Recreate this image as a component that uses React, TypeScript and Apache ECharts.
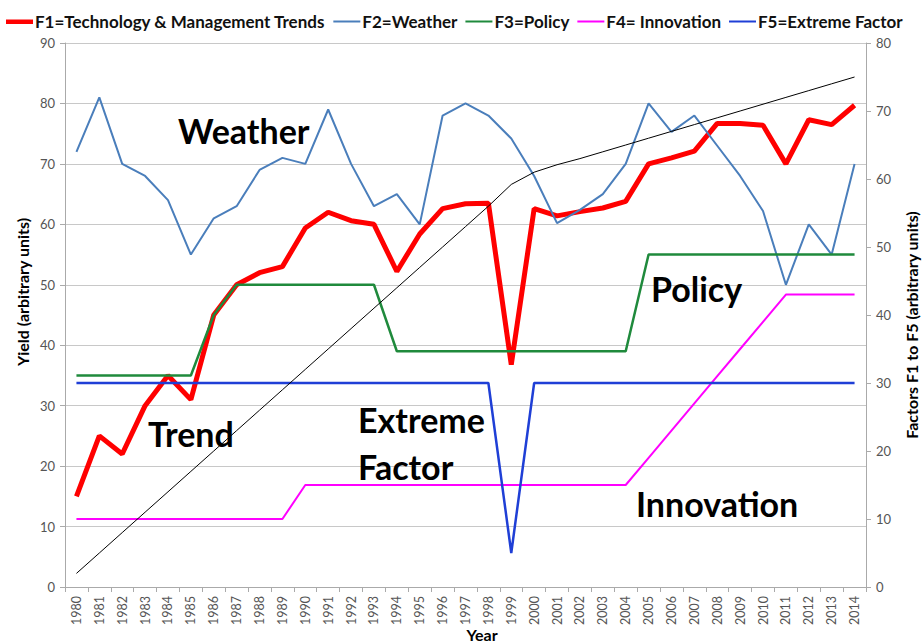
import React, { useEffect, useRef } from "react";
import * as echarts from "echarts";

const years = [
  "1980", "1981", "1982", "1983", "1984", "1985", "1986", "1987", "1988", "1989",
  "1990", "1991", "1992", "1993", "1994", "1995", "1996", "1997", "1998", "1999",
  "2000", "2001", "2002", "2003", "2004", "2005", "2006", "2007", "2008", "2009",
  "2010", "2011", "2012", "2013", "2014",
];

const f1Trends = [
  15, 25, 22, 30, 35, 31, 45, 50, 52, 53,
  59.4, 62, 60.6, 60, 52.2, 58.4, 62.6, 63.4, 63.5, 36.8,
  62.6, 61.4, 62.1, 62.7, 63.8, 70, 71, 72.1, 76.7, 76.7,
  76.4, 70, 77.3, 76.5, 79.7,
];

const f2Weather = [
  72, 81, 70, 68, 64, 55, 61, 63, 69, 71,
  70, 79, 70, 63, 65, 60, 78, 80, 78, 74.2,
  68, 60.2, 62.4, 65, 70, 80, 75.3, 78, 73, 68,
  62.2, 50, 60, 55, 70,
];

const f3Policy = [
  35, 35, 35, 35, 35, 35, 45, 50, 50, 50,
  50, 50, 50, 50, 39, 39, 39, 39, 39, 39,
  39, 39, 39, 39, 39, 55, 55, 55, 55, 55,
  55, 55, 55, 55, 55,
];

const f4Innovation = [
  10, 10, 10, 10, 10, 10, 10, 10, 10, 10,
  15, 15, 15, 15, 15, 15, 15, 15, 15, 15,
  15, 15, 15, 15, 15, 19, 23, 27, 31, 35,
  39, 43, 43, 43, 43,
];

const f5Extreme = [
  30, 30, 30, 30, 30, 30, 30, 30, 30, 30,
  30, 30, 30, 30, 30, 30, 30, 30, 30, 5,
  30, 30, 30, 30, 30, 30, 30, 30, 30, 30,
  30, 30, 30, 30, 30,
];

const trendLine = [
  2, 5, 8, 11, 14, 17, 20, 23, 26, 29,
  32, 35, 38, 41, 44, 47, 50, 53, 56, 59.2,
  61, 62.1, 63, 64, 65, 66, 67, 68, 69, 70,
  71, 72, 73, 74, 75,
];

const legendNames = [
  "F1=Technology & Management Trends",
  "F2=Weather",
  "F3=Policy",
  "F4= Innovation",
  "F5=Extreme Factor",
];

const leftTicks = { min: 0, max: 90, interval: 10 };
const rightTicks = { min: 0, max: 80, interval: 10 };

const FONT = "Lato, 'Open Sans', sans-serif";

const THICK_ICON = "path://M0,0 M27,12 M0,4 L27,4 L27,8.5 L0,8.5 Z";
const THIN_ICON = "path://M0,0 M27,12 M0,5 L27,5 L27,7 L0,7 Z";

export default function App() {
  const ref = useRef<HTMLDivElement>(null);

  useEffect(() => {
    document.body.style.margin = "0";
    if (!ref.current) return;
    const chart = echarts.init(ref.current, null, { renderer: "svg" });

    const annot = (text: string, x: number, y: number) => ({
      type: "text",
      x,
      y,
      z: 100,
      style: {
        text,
        fill: "#000",
        font: `bold 34px ${FONT}`,
        textVerticalAlign: "middle",
      },
    });

    const axisTitle = (text: string, x: number, y: number, rot: number) => ({
      type: "text",
      x,
      y,
      rotation: rot,
      z: 100,
      style: {
        text,
        fill: "#000",
        font: `bold 16px ${FONT}`,
        textAlign: "center",
        textVerticalAlign: "middle",
      },
    });

    chart.setOption({
      animation: false,
      backgroundColor: "#fff",
      textStyle: { fontFamily: FONT },
      legend: {
        top: 8,
        left: 6,
        right: 0,
        padding: [5, 0, 5, 0],
        itemWidth: 27,
        itemHeight: 12,
        itemGap: 8,
        data: legendNames.map((n, i) => ({ name: n, icon: i === 0 ? THICK_ICON : THIN_ICON })),
        textStyle: { fontSize: 17, fontWeight: "bold", color: "#111", fontFamily: FONT, padding: [0, 0, 0, -3] },
      },
      grid: { left: 65, right: 58, top: 43, bottom: 57, containLabel: false },
      xAxis: {
        type: "category",
        data: years,
        boundaryGap: true,
        axisLine: { show: true, lineStyle: { color: "#aaa" } },
        axisTick: { show: true, length: 5, lineStyle: { color: "#aaa" } },
        axisLabel: { rotate: 90, fontSize: 12.5, color: "#555", margin: 9, interval: 0 },
      },
      yAxis: [
        {
          type: "value",
          ...leftTicks,
          axisLine: { show: true, lineStyle: { color: "#aaa" } },
          axisTick: { show: true, length: 5, lineStyle: { color: "#aaa" } },
          axisLabel: { fontSize: 13, color: "#555", margin: 10 },
          splitLine: { show: true, lineStyle: { color: "#c8c8c8", width: 1 } },
        },
        {
          type: "value",
          ...rightTicks,
          position: "right",
          axisLine: { show: true, lineStyle: { color: "#aaa" } },
          axisTick: { show: true, length: 5, lineStyle: { color: "#aaa" } },
          axisLabel: { fontSize: 13, color: "#555", margin: 10 },
          splitLine: { show: false },
        },
      ],
      series: [
        {
          name: legendNames[0],
          type: "line",
          yAxisIndex: 0,
          data: f1Trends,
          symbol: "none",
          lineStyle: { color: "#ff0000", width: 5 },
          itemStyle: { color: "#ff0000" },
        },
        {
          name: legendNames[1],
          type: "line",
          yAxisIndex: 0,
          data: f2Weather,
          symbol: "none",
          lineStyle: { color: "#4a7ebb", width: 2 },
          itemStyle: { color: "#4a7ebb" },
        },
        {
          name: legendNames[2],
          type: "line",
          yAxisIndex: 0,
          data: f3Policy,
          symbol: "none",
          lineStyle: { color: "#1f8a3c", width: 2.5 },
          itemStyle: { color: "#1f8a3c" },
        },
        {
          name: legendNames[3],
          type: "line",
          yAxisIndex: 1,
          data: f4Innovation,
          symbol: "none",
          lineStyle: { color: "#ff00ff", width: 2 },
          itemStyle: { color: "#ff00ff" },
        },
        {
          name: legendNames[4],
          type: "line",
          yAxisIndex: 1,
          data: f5Extreme,
          symbol: "none",
          lineStyle: { color: "#1f3fd6", width: 2.5 },
          itemStyle: { color: "#1f3fd6" },
        },
        {
          name: "Trend",
          type: "line",
          yAxisIndex: 1,
          data: trendLine,
          symbol: "none",
          lineStyle: { color: "#000", width: 1 },
          itemStyle: { color: "#000" },
        },
      ],
      graphic: [
        annot("Weather", 178, 130),
        annot("Trend", 148, 433),
        annot("Extreme", 358, 419),
        annot("Factor", 358, 466),
        annot("Policy", 651, 288),
        annot("Innovation", 636, 503),
        axisTitle("Yield (arbitrary units)", 22, 292, Math.PI / 2),
        axisTitle("Factors F1 to F5 (arbitrary units)", 911, 325, Math.PI / 2),
        axisTitle("Year", 482, 634, 0),
      ],
    });

    return () => chart.dispose();
  }, []);

  return (
    <div
      ref={ref}
      style={{ position: "absolute", left: 0, top: 0, width: 924, height: 644 }}
    />
  );
}
